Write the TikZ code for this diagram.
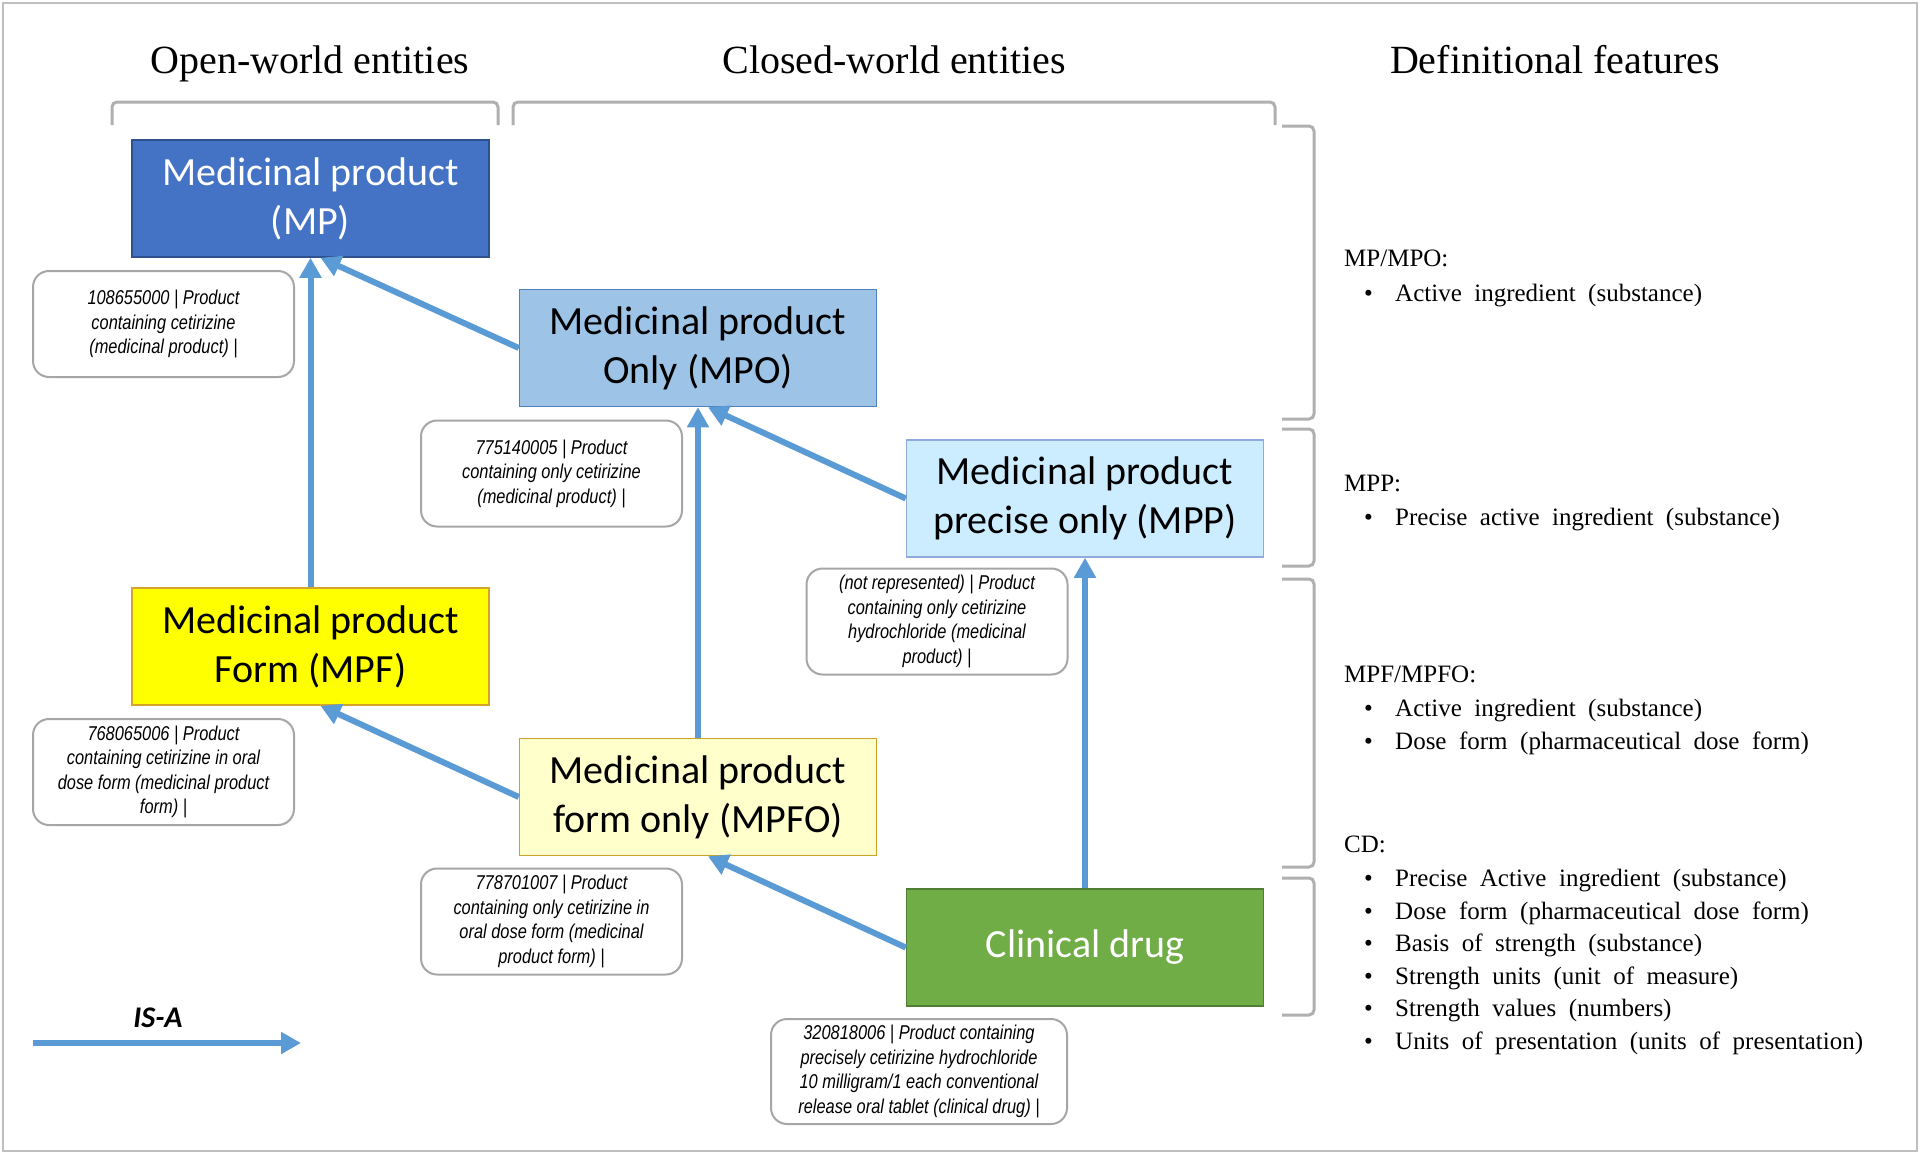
\documentclass[tikz,border=0pt]{standalone}
\usepackage{fontspec}
\setmainfont{Liberation Serif}
\newfontfamily\deffont[WordSpace=2]{Liberation Serif}
\newfontfamily\boxfont{Carlito}
\newfontfamily\labfont[FakeStretch=0.82]{Liberation Sans}
\usetikzlibrary{arrows.meta}
\definecolor{arrowblue}{HTML}{5B9BD5}
\definecolor{labgray}{HTML}{A6A6A6}
\definecolor{brkgray}{HTML}{B0B0B0}
\definecolor{framegray}{HTML}{BFBFBF}
\definecolor{mpfill}{HTML}{4472C4}
\definecolor{mpdraw}{HTML}{2F528F}
\definecolor{mpofill}{HTML}{9DC3E6}
\definecolor{mpodraw}{HTML}{4F81BD}
\definecolor{mppfill}{HTML}{CCECFF}
\definecolor{mppdraw}{HTML}{8FAADC}
\definecolor{mpffill}{HTML}{FFFF00}
\definecolor{mpfdraw}{HTML}{D4A52A}
\definecolor{mpfofill}{HTML}{FFFFCC}
\definecolor{mpfodraw}{HTML}{C9A227}
\definecolor{cdfill}{HTML}{70AD47}
\definecolor{cddraw}{HTML}{507E32}
\begin{document}
\begin{tikzpicture}[x=1pt,y=-1pt,
  ent/.style={draw, line width=1.5pt, minimum width=357pt, minimum height=117pt,
    align=center, inner sep=0pt, font=\boxfont\fontsize{40}{49}\selectfont},
  lab/.style={draw=labgray, line width=2pt, rounded corners=16pt, minimum width=261pt,
    minimum height=106pt, align=center, inner sep=0pt,
    font=\labfont\itshape\fontsize{20}{24.5}\selectfont},
  isa/.style={draw=arrowblue, line width=6pt, -{Triangle[length=20pt,width=21pt]}},
  brk/.style={draw=brkgray, line width=3pt, rounded corners=5pt},
  ttl/.style={font=\fontsize{40}{48}\selectfont, anchor=base, inner sep=0pt},
  deftxt/.style={font=\deffont\fontsize{25}{30}\selectfont, anchor=base west, inner sep=0pt}]
\useasboundingbox (0,0) rectangle (1920,1154);
\fill[white] (0,0) rectangle (1920,1154);
\draw[framegray, line width=2pt] (3,3) rectangle (1917,1151);

% titles
\node[ttl] (t1) at (310,73) {Open-world entities};
\node[ttl] (t2) at (894,73) {Closed-world entities};
\node[ttl] (t3) at (1555,73) {Definitional features};

% top brackets
\draw[brk] (112,125) -- (112,102) -- (498,102) -- (498,125);
\draw[brk] (513,125) -- (513,102) -- (1275,102) -- (1275,125);
% right brackets
\draw[brk] (1282,126) -- (1314,126) -- (1314,419) -- (1282,419);
\draw[brk] (1282,429) -- (1314,429) -- (1314,566) -- (1282,566);
\draw[brk] (1282,579) -- (1314,579) -- (1314,867) -- (1282,867);
\draw[brk] (1282,878) -- (1314,878) -- (1314,1015) -- (1282,1015);

% entity boxes
\node[ent, fill=mpfill, draw=mpdraw, text=white] (MP) at (310.5,198.5) {Medicinal product\\(MP)};
\node[ent, fill=mpofill, draw=mpodraw] (MPO) at (698,348) {Medicinal product\\Only (MPO)};
\node[ent, fill=mppfill, draw=mppdraw] (MPP) at (1085,498.5) {Medicinal product\\precise only (MPP)};
\node[ent, fill=mpffill, draw=mpfdraw] (MPF) at (310.5,646.5) {Medicinal product\\Form (MPF)};
\node[ent, fill=mpfofill, draw=mpfodraw] (MPFO) at (698,797) {Medicinal product\\form only (MPFO)};
\node[ent, fill=cdfill, draw=cddraw, text=white] (CD) at (1085,947.5) {Clinical drug};

% label boxes
\node[lab] (l1) at (163.5,324) {108655000 | Product\\containing cetirizine\\(medicinal product) |};
\node[lab] (l2) at (551.5,473.5) {775140005 | Product\\containing only cetirizine\\(medicinal product) |};
\node[lab] (l3) at (937,621.5) {(not represented) | Product\\containing only cetirizine\\hydrochloride (medicinal\\product) |};
\node[lab] (l4) at (163.5,772) {768065006 | Product\\containing cetirizine in oral\\dose form (medicinal product\\form) |};
\node[lab] (l5) at (551.5,921.5) {778701007 | Product\\containing only cetirizine in\\oral dose form (medicinal\\product form) |};
\node[lab, minimum width=296pt, minimum height=105pt] (l6) at (919,1071.5) {320818006 | Product containing\\precisely cetirizine hydrochloride\\10 milligram/1 each conventional\\release oral tablet (clinical drug) |};

% IS-A arrows
\draw[isa] (MPF.north) -- (MP.south);
\draw[isa] (MPO.west) -- ([xshift=10pt]MP.south);
\draw[isa] (MPFO.north) -- (MPO.south);
\draw[isa] (MPP.west) -- ([xshift=10pt]MPO.south);
\draw[isa] (MPFO.west) -- ([xshift=10pt]MPF.south);
\draw[isa] (CD.west) -- ([xshift=10pt]MPFO.south);
\draw[isa] (CD.north) -- (MPP.south);

% legend
\coordinate (isaA) at (33,1043);
\coordinate (isaB) at (301,1043);
\draw[isa] (isaA) -- (isaB);
\node[font=\boxfont\bfseries\itshape\fontsize{30}{36}\selectfont, inner sep=0pt] (isalab) at (158,1018) {IS-A};

% definitional features
\node[deftxt] (d1) at (1344,266) {MP/MPO:};
\node[deftxt] (d1b) at (1364,301) {•};
\node[deftxt] (d2) at (1395,301) {Active ingredient (substance)};
\node[deftxt] (d3) at (1344,491) {MPP:};
\node[deftxt] (d3b) at (1364,525) {•};
\node[deftxt] (d4) at (1395,525) {Precise active ingredient (substance)};
\node[deftxt] (d5) at (1344,682) {MPF/MPFO:};
\node[deftxt] (d5b) at (1364,716) {•};
\node[deftxt] (d6) at (1395,716) {Active ingredient (substance)};
\node[deftxt] (d6b) at (1364,749) {•};
\node[deftxt] (d7) at (1395,749) {Dose form (pharmaceutical dose form)};
\node[deftxt] (d8) at (1344,852) {CD:};
\node[deftxt] (d8b) at (1364,886) {•};
\node[deftxt] (d9) at (1395,886) {Precise Active ingredient (substance)};
\node[deftxt] (d9b) at (1364,919) {•};
\node[deftxt] (d10) at (1395,919) {Dose form (pharmaceutical dose form)};
\node[deftxt] (d10b) at (1364,951) {•};
\node[deftxt] (d11) at (1395,951) {Basis of strength (substance)};
\node[deftxt] (d11b) at (1364,984) {•};
\node[deftxt] (d12) at (1395,984) {Strength units (unit of measure)};
\node[deftxt] (d12b) at (1364,1016) {•};
\node[deftxt] (d13) at (1395,1016) {Strength values (numbers)};
\node[deftxt] (d13b) at (1364,1049) {•};
\node[deftxt] (d14) at (1395,1049) {Units of presentation (units of presentation)};
\end{tikzpicture}
\end{document}
